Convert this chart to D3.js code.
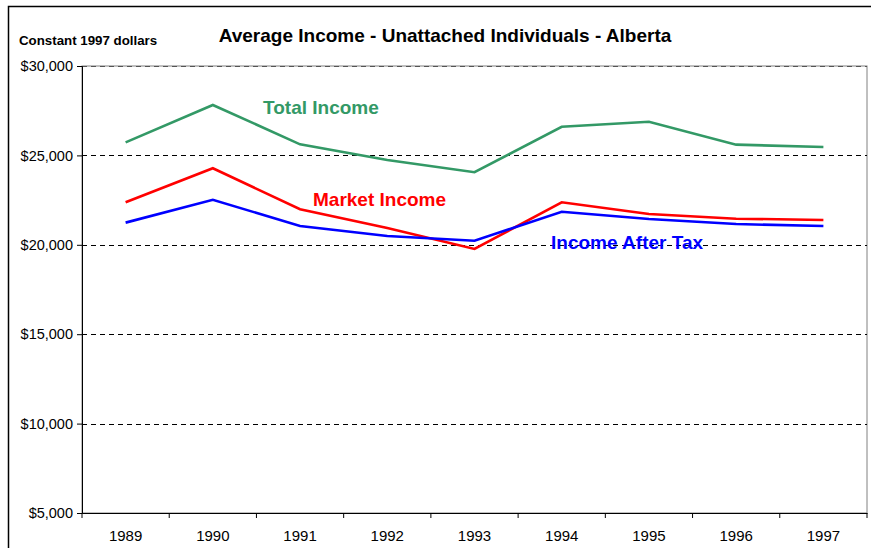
<!DOCTYPE html>
<html lang="en">
<head>
<meta charset="utf-8">
<script src="https://d3js.org/d3.v7.min.js"></script>
<style>
  body { margin: 0; background: #fff; }
  text { font-family: "Liberation Sans", Arial, sans-serif; }
</style>
</head>
<body>
<div id="my_dataviz"></div>
<script>
// data
var years = ["1989", "1990", "1991", "1992", "1993", "1994", "1995", "1996", "1997"];
var totalIncome  = [25730, 27820, 25620, 24740, 24060, 26600, 26880, 25600, 25470];
var marketIncome = [22380, 24280, 21990, 20940, 19770, 22380, 21720, 21460, 21390];
var afterTax     = [21240, 22520, 21050, 20490, 20230, 21850, 21440, 21160, 21050];
var yTicks = [5000, 10000, 15000, 20000, 25000, 30000];

var margin = {top: 66, right: 4, bottom: 35, left: 82},
    width = 871 - margin.left - margin.right,
    height = 548 - margin.top - margin.bottom;

var root = d3.select("#my_dataviz")
  .append("svg")
  .attr("width", 871)
  .attr("height", 548)

// outer frame of the chart
root.append("rect")
  .attr("x", 8.5).attr("y", 6.5)
  .attr("width", 880).attr("height", 560)
  .attr("fill", "none")
  .attr("stroke", "black")
  .attr("stroke-width", 1.5)

var svg = root.append("g")
  .attr("transform", "translate(" + margin.left + "," + margin.top + ")")

var x = d3.scaleBand()
  .domain(years)
  .range([0, width])

var y = d3.scaleLinear()
  .domain([5000, 30000])
  .range([height, 0])

// plot area border (grey)
svg.append("rect")
  .attr("x", 0).attr("y", 0)
  .attr("width", width).attr("height", height)
  .attr("fill", "none")
  .attr("stroke", "#808080")
  .attr("stroke-width", 1)

// dashed gridlines
svg.append("g")
  .selectAll("line")
  .data(yTicks.filter(function(d) { return d > 5000; }))
  .enter()
  .append("line")
    .attr("x1", 0)
    .attr("x2", width)
    .attr("y1", function(d) { return Math.round(y(d)) + 0.5; })
    .attr("y2", function(d) { return Math.round(y(d)) + 0.5; })
    .attr("stroke", function(d) { return d == 30000 ? "#555" : "black"; })
    .attr("stroke-dasharray", "5,4")

// Y axis
var yAxis = svg.append("g")
  .call(d3.axisLeft(y).tickValues(yTicks).tickSize(5).tickPadding(4)
    .tickFormat(function(d) { return "$" + d3.format(",")(d); }))
yAxis.select(".domain").attr("stroke", "black")
yAxis.selectAll("text").attr("font-size", "14.5px").attr("fill", "black")

// X axis, ticks between categories
var xAxis = svg.append("g")
  .attr("transform", "translate(0," + height + ")")
  .call(d3.axisBottom(x).tickSize(0).tickPadding(17))
xAxis.select(".domain").attr("stroke", "black")
xAxis.selectAll("text").attr("font-size", "15px").attr("fill", "black")
xAxis.selectAll(".sep")
  .data(d3.range(years.length + 1))
  .enter()
  .append("line")
    .attr("x1", function(i) { return i * x.step(); })
    .attr("x2", function(i) { return i * x.step(); })
    .attr("y1", 0)
    .attr("y2", 5)
    .attr("stroke", "black")

// lines
var series = [
  {name: "Total Income", values: totalIncome, color: "#339966", lx: 181, ly: 48},
  {name: "Market Income", values: marketIncome, color: "#ff0000", lx: 231, ly: 140},
  {name: "Income After Tax", values: afterTax, color: "#0000ff", lx: 469, ly: 183}
]

var line = d3.line()
  .x(function(d, i) { return x(years[i]) + x.bandwidth() / 2; })
  .y(function(d) { return y(d); })

svg.selectAll(".series")
  .data(series)
  .enter()
  .append("path")
    .attr("class", "series")
    .attr("d", function(d) { return line(d.values); })
    .attr("fill", "none")
    .attr("stroke", function(d) { return d.color; })
    .attr("stroke-width", 2.6)

// series labels
svg.selectAll(".lbl")
  .data(series)
  .enter()
  .append("text")
    .attr("x", function(d) { return d.lx; })
    .attr("y", function(d) { return d.ly; })
    .attr("fill", function(d) { return d.color; })
    .attr("font-size", "19px")
    .attr("font-weight", "bold")
    .text(function(d) { return d.name; })

// titles
root.append("text")
  .attr("x", 445)
  .attr("y", 42)
  .attr("text-anchor", "middle")
  .attr("font-size", "19px")
  .attr("font-weight", "bold")
  .text("Average Income - Unattached Individuals - Alberta")

root.append("text")
  .attr("x", 19)
  .attr("y", 45)
  .attr("font-size", "13.3px")
  .attr("font-weight", "bold")
  .text("Constant 1997 dollars")
</script>
</body>
</html>
